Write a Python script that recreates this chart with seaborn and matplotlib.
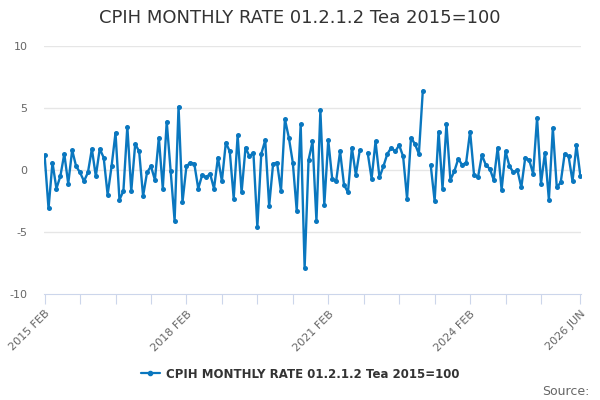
import numpy as np
import pandas as pd
import matplotlib
matplotlib.use("Agg")
import matplotlib.pyplot as plt
import seaborn as sns
from matplotlib.lines import Line2D

title = "CPIH MONTHLY RATE 01.2.1.2 Tea 2015=100"
series_name = "CPIH MONTHLY RATE 01.2.1.2 Tea 2015=100"

months = pd.period_range("2015-02", "2026-06", freq="M")
values = [
    1.2, -3.1, 0.6, -1.5, -0.5, 1.3, -1.1, 1.6, 0.3, -0.2, -0.9, -0.2,
    1.7, -0.5, 1.7, 1.0, -2.0, 0.3, 3.0, -2.4, -1.7, 3.5, -1.7, 2.1,
    1.5, -2.1, -0.2, 0.3, -0.8, 2.6, -1.5, 3.9, -0.1, -4.1, 5.1, -2.6,
    0.3, 0.6, 0.5, -1.5, -0.4, -0.6, -0.3, -1.5, 1.0, -0.9, 2.2, 1.5,
    -2.3, 2.8, -1.8, 1.8, 1.1, 1.4, -4.6, 1.3, 2.4, -2.9, 0.5, 0.6,
    -1.7, 4.1, 2.6, 0.6, -3.3, 3.7, -7.9, 0.8, 2.3, -4.1, 4.8, -2.8,
    2.4, -0.7, -0.9, 1.5, -1.2, -1.8, 1.8, -0.4, 1.6, np.nan, 1.4, -0.7,
    2.3, -0.6, 0.3, 1.3, 1.8, 1.5, 2.0, 1.1, -2.3, 2.6, 2.1, 1.3,
    6.4, np.nan, 0.4, -2.5, 3.1, -1.5, 3.7, -0.8, -0.1, 0.9, 0.4, 0.6,
    3.1, -0.4, -0.6, 1.2, 0.4, 0.1, -0.8, 1.8, -1.6, 1.5, 0.3, -0.2,
    0.0, -1.4, 1.0, 0.8, -0.3, 4.2, -1.1, 1.4, -2.4, 3.4, -1.4, -1.0,
    1.3, 1.1, -0.9, 2.0, -0.5,
]
tick_idx = [0, 9, 18, 27, 36, 45, 54, 63, 72, 81, 90, 99, 108, 117, 126, 136]
label_idx = {0: "2015 FEB", 36: "2018 FEB", 72: "2021 FEB", 108: "2024 FEB", 136: "2026 JUN"}
yticks = [-10, -5, 0, 5, 10]

df = pd.DataFrame({"i": np.arange(len(months)), "value": values})
df["segment"] = df["value"].isna().cumsum()
df = df.dropna()

LINE = "#0a77bf"
GRID = "#e6e6e6"
AXIS = "#ccd6eb"
TXT = "#333333"
LBL = "#666666"

sns.set_theme(style="white")
plt.rcParams["font.family"] = ["DejaVu Sans"]

fig = plt.figure(figsize=(6, 4), dpi=100)
ax = fig.add_axes([44 / 600, (400 - 294) / 400, 537 / 600, (294 - 46) / 400])

sns.lineplot(data=df, x="i", y="value", units="segment", estimator=None,
             color=LINE, linewidth=1.7, marker="o", markersize=3.6,
             markeredgewidth=0, ax=ax, legend=False, zorder=3)

ax.set_xlim(-0.15, 136.15)
ax.set_ylim(-10, 10)
ax.set_yticks(yticks)
ax.set_yticklabels([str(v) for v in yticks], color=LBL, fontsize=8)
for y in yticks[1:]:
    ax.axhline(y, color=GRID, linewidth=1, zorder=1)

ax.set_xticks(tick_idx)
ax.set_xticklabels([label_idx.get(t, "") for t in tick_idx], rotation=45,
                   ha="right", rotation_mode="anchor", color=LBL, fontsize=8)
ax.tick_params(axis="x", length=7.5, width=0.8, color=AXIS, pad=3, bottom=True)
ax.tick_params(axis="y", length=0, pad=12)

for s in ["top", "right", "left"]:
    ax.spines[s].set_visible(False)
ax.spines["bottom"].set_color(AXIS)
ax.spines["bottom"].set_linewidth(0.8)
ax.set_xlabel("")
ax.set_ylabel("")
ax.grid(False)

fig.text(0.5, 0.955, title, ha="center", va="center", fontsize=13, color=TXT)

handle = Line2D([0], [0], color=LINE, linewidth=1.6, marker="o", markersize=3)
fig.legend([handle], [series_name], loc="center", bbox_to_anchor=(0.5, 0.065),
           frameon=False, prop={"size": 8.5, "weight": "bold"}, handlelength=1.6,
           handletextpad=0.5, labelcolor=TXT)

fig.text(0.982, 0.022, "Source:", ha="right", va="center", fontsize=9, color=LBL)

fig.savefig("out.png", dpi=100)
